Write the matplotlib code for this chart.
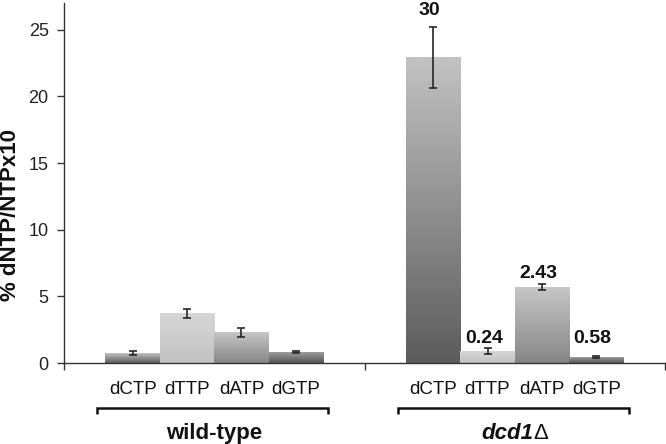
import matplotlib
matplotlib.use("Agg")
import matplotlib.pyplot as plt
import numpy as np
from matplotlib.colors import LinearSegmentedColormap
from matplotlib.transforms import blended_transform_factory, offset_copy

plt.rcParams['font.family'] = ['Liberation Sans', 'DejaVu Sans']

groups = ["wild-type", "dcd1Δ"]
nucleotides = ["dCTP", "dTTP", "dATP", "dGTP"]
values = {
    "wild-type": [0.75, 3.73, 2.30, 0.82],
    "dcd1Δ": [22.9, 0.90, 5.69, 0.45],
}
errors = {
    "wild-type": [0.12, 0.35, 0.35, 0.10],
    "dcd1Δ": [2.27, 0.25, 0.22, 0.05],
}
value_labels = {"dcd1Δ": ["30", "0.24", "2.43", "0.58"]}
yticks = [0, 5, 10, 15, 20, 25]

# gradient colours (top, bottom) per nucleotide
grad_colors = {
    "dCTP": ("#c2c2c2", "#5c5c5c"),
    "dTTP": ("#d6d6d6", "#c2c2c2"),
    "dATP": ("#c6c6c6", "#868686"),
    "dGTP": ("#9c9c9c", "#565656"),
}

W, H = 666, 444
fig = plt.figure(figsize=(W / 100, H / 100), dpi=100)
ax = fig.add_axes([64 / W, 1 - 363 / H, 601 / W, 360 / H])

bw = 0.181
offsets = (np.arange(4) - 1.5) * bw

for gi, g in enumerate(groups):
    for ni, n in enumerate(nucleotides):
        xc = gi + offsets[ni]
        v = values[g][ni]
        top, bot = grad_colors[n]
        cmap = LinearSegmentedColormap.from_list("g", [bot, top])
        grad = np.linspace(0, 1, 256).reshape(-1, 1)
        ax.imshow(grad, extent=[xc - bw / 2, xc + bw / 2, 0, v], origin="lower",
                  aspect="auto", cmap=cmap, zorder=2, interpolation="bilinear")
        ax.errorbar(xc, v, yerr=errors[g][ni], color="#262626", lw=1.2,
                    capsize=3.2, capthick=1.2, zorder=4)

ax.set_xlim(-0.5, 1.5)
ax.set_ylim(0, 27)
ax.set_yticks(yticks)
ax.set_xticks([-0.5, 0.5, 1.5])
ax.set_xticklabels([])
ax.tick_params(axis="both", direction="out", length=5, width=1, color="#333333")
ax.tick_params(axis="y", labelsize=13, labelcolor="#222222", pad=6)
for s in ["top", "right"]:
    ax.spines[s].set_visible(False)
for s in ["left", "bottom"]:
    ax.spines[s].set_color("#333333")
    ax.spines[s].set_linewidth(1)

ax.set_ylabel("% dNTP/NTPx10", fontsize=16, fontweight="bold", color="#111111")
ax.yaxis.set_label_coords(-0.072, 0.41)

# value labels above dcd1 bars
label_y = [26.4, 1.87, 6.74, 1.87]
for ni, txt in enumerate(value_labels["dcd1Δ"]):
    xc = 1 + offsets[ni]
    ax.text(xc - 0.012, label_y[ni], txt, ha="center", va="center",
            fontsize=14, fontweight="bold", color="#111111", zorder=5)

# category labels and group brackets
trans = blended_transform_factory(ax.transData, fig.transFigure)
def fy(py):
    return 1 - py / H

for gi, g in enumerate(groups):
    for ni, n in enumerate(nucleotides):
        xc = gi + offsets[ni]
        ax.text(xc, fy(389), n, transform=trans, ha="center", va="center",
                fontsize=13.5, color="#111111", clip_on=False)
    x0, x1 = gi - 0.39, gi + 0.38
    ax.plot([x0, x0, x1, x1], [fy(414), fy(408), fy(408), fy(414)],
            transform=trans, color="#111111", lw=1.8, clip_on=False,
            solid_capstyle="butt", solid_joinstyle="miter")

# group names
ax.text(0, fy(433), groups[0], transform=trans, ha="center", va="center",
        fontsize=16, fontweight="bold", color="#111111", clip_on=False)
t_right = offset_copy(trans, fig=fig, x=19, y=0, units="dots")
ax.text(1, fy(433), "dcd1", transform=t_right, ha="right", va="center",
        fontsize=16, fontweight="bold", fontstyle="italic", color="#111111",
        clip_on=False)
ax.text(1, fy(433), "Δ", transform=t_right, ha="left", va="center",
        fontsize=16, color="#111111", clip_on=False)

fig.savefig("out.png", dpi=100)
